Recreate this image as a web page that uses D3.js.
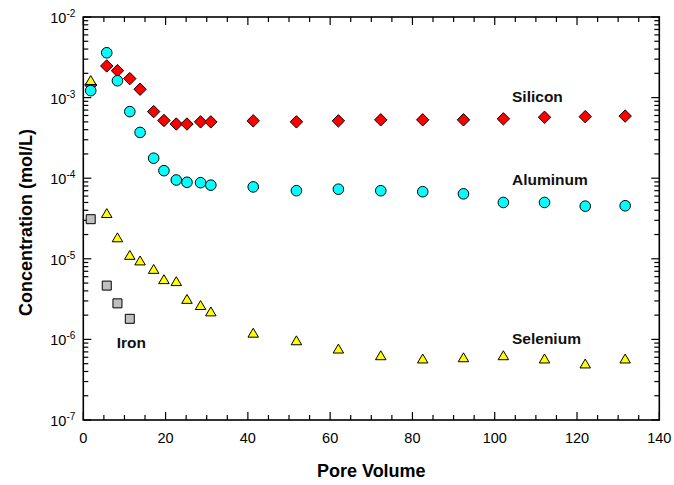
<!DOCTYPE html>
<html>
<head>
<meta charset="utf-8">
<script src="https://cdn.jsdelivr.net/npm/d3@7/dist/d3.min.js"></script>
<style>
  html, body { margin: 0; padding: 0; background: #fff; }
  svg { display: block; font-family: "Liberation Sans", Arial, sans-serif; }
</style>
</head>
<body>
<svg id="chart" width="674" height="485"></svg>
<script>
// Pore volumes at which samples were taken
const poreVolume = [1.8, 5.7, 8.3, 11.3, 13.8, 17.1, 19.6, 22.6, 25.2, 28.5, 31.0,
                    41.3, 51.8, 62.0, 72.3, 82.5, 92.4, 102.1, 112.1, 122.0, 131.7];

// Effluent concentrations (mol/L)
const silicon = [1.43e-3, 2.47e-3, 2.16e-3, 1.72e-3, 1.27e-3, 6.7e-4, 5.2e-4, 4.7e-4, 4.7e-4, 5.0e-4, 5.0e-4,
                 5.15e-4, 5.0e-4, 5.15e-4, 5.3e-4, 5.3e-4, 5.3e-4, 5.45e-4, 5.7e-4, 5.8e-4, 5.9e-4];
const aluminum = [1.22e-3, 3.6e-3, 1.62e-3, 6.7e-4, 3.7e-4, 1.77e-4, 1.24e-4, 9.5e-5, 8.9e-5, 8.8e-5, 8.2e-5,
                  7.8e-5, 7.0e-5, 7.3e-5, 7.0e-5, 6.8e-5, 6.4e-5, 5.0e-5, 5.0e-5, 4.5e-5, 4.55e-5];
const selenium = [1.61e-3, 3.6e-5, 1.8e-5, 1.09e-5, 9.3e-6, 7.3e-6, 5.45e-6, 5.15e-6, 3.1e-6, 2.6e-6, 2.17e-6,
                  1.18e-6, 9.5e-7, 7.5e-7, 6.2e-7, 5.65e-7, 5.85e-7, 6.2e-7, 5.65e-7, 4.9e-7, 5.65e-7];
const iron = [3.1e-5, 4.65e-6, 2.8e-6, 1.8e-6];

const xTicks = [0, 20, 40, 60, 80, 100, 120, 140];
const yExponents = [-7, -6, -5, -4, -3, -2];

// Series name labels, anchored at their text baseline (pore volume, mol/L)
const seriesLabels = [
  { text: "Silicon",  x: 104.2, y: 8.8e-4 },
  { text: "Aluminum", x: 104.2, y: 8.35e-5 },
  { text: "Selenium", x: 104.2, y: 8.75e-7 },
  { text: "Iron",     x: 8.1,   y: 7.8e-7 }
];

const W = 674, H = 485;
const margin = { left: 83.3, right: W - 659.3, top: 17, bottom: H - 420 };

const svg = d3.select("#chart");

const x = d3.scaleLinear().domain([0, 140]).range([margin.left, W - margin.right]);
const y = d3.scaleLog().domain([1e-7, 1e-2]).range([H - margin.bottom, margin.top]);

// ---- axes frame and ticks (inward on all four sides) ----
const g = svg.append("g");
const minorX = d3.range(0, 141, 5);
const majorLen = 8, minorLen = 5;

function drawXTicks(yPos, dir) {
  g.selectAll(null).data(minorX).enter().append("line")
    .attr("x1", d => x(d)).attr("x2", d => x(d))
    .attr("y1", yPos)
    .attr("y2", d => yPos + dir * (d % 20 === 0 ? majorLen : minorLen))
    .attr("stroke", "#000").attr("stroke-width", 1.2);
}
drawXTicks(y(1e-7), -1);
drawXTicks(y(1e-2), 1);

const minorY = [];
for (let e = -7; e < -2; e++) for (let m = 1; m <= 9; m++) minorY.push(m * Math.pow(10, e));
minorY.push(1e-2);

function drawYTicks(xPos, dir) {
  g.selectAll(null).data(minorY).enter().append("line")
    .attr("y1", d => y(d)).attr("y2", d => y(d))
    .attr("x1", xPos)
    .attr("x2", d => {
      const isMajor = Math.abs(Math.log10(d) - Math.round(Math.log10(d))) < 1e-9;
      return xPos + dir * (isMajor ? majorLen : minorLen);
    })
    .attr("stroke", "#000").attr("stroke-width", 1.2);
}
drawYTicks(x(0), 1);
drawYTicks(x(140), -1);

g.append("rect")
  .attr("x", x(0)).attr("y", y(1e-2))
  .attr("width", x(140) - x(0)).attr("height", y(1e-7) - y(1e-2))
  .attr("fill", "none").attr("stroke", "#000").attr("stroke-width", 1.6);

// x tick labels
svg.selectAll(null).data(xTicks).enter().append("text")
  .attr("x", d => x(d)).attr("y", y(1e-7) + 23)
  .attr("text-anchor", "middle")
  .attr("font-size", 14.5)
  .attr("fill", "#000")
  .text(d => d);

// y tick labels as powers of ten
const yl = svg.selectAll(null).data(yExponents).enter().append("text")
  .attr("x", x(0) - 8)
  .attr("y", d => y(Math.pow(10, d)) + 6)
  .attr("text-anchor", "end")
  .attr("font-size", 14.5)
  .attr("fill", "#000");
yl.append("tspan").text("10");
yl.append("tspan").attr("dy", -6).attr("font-size", 10).text(d => String(d));

// axis titles
svg.append("text")
  .attr("x", (x(0) + x(140)) / 2).attr("y", 477)
  .attr("text-anchor", "middle")
  .attr("font-size", 18).attr("font-weight", "bold")
  .text("Pore Volume");

svg.append("text")
  .attr("transform", `translate(31.5,${(y(1e-2) + y(1e-7)) / 2 + 4}) rotate(-90)`)
  .attr("text-anchor", "middle")
  .attr("font-size", 18).attr("font-weight", "bold")
  .text("Concentration (mol/L)");

// ---- markers ----
const diamond = r => `M0,${-r}L${r},0L0,${r}L${-r},0Z`;
const square = s => `M${-s / 2},${-s / 2}h${s}v${s}h${-s}Z`;
const triangle = w => {
  const h = w * 0.85;
  return `M0,${-h * 0.6}L${w / 2},${h * 0.4}L${-w / 2},${h * 0.4}Z`;
};

function zip(vals) { return vals.map((v, i) => ({ px: poreVolume[i], v })); }

const marks = svg.append("g").attr("stroke", "#000").attr("stroke-width", 1);

marks.selectAll(".si").data(zip(silicon)).enter().append("path")
  .attr("class", "si")
  .attr("d", diamond(6.2))
  .attr("transform", d => `translate(${x(d.px)},${y(d.v)})`)
  .attr("fill", "#ff0000");

marks.selectAll(".al").data(zip(aluminum)).enter().append("circle")
  .attr("class", "al")
  .attr("cx", d => x(d.px)).attr("cy", d => y(d.v)).attr("r", 5.3)
  .attr("fill", "#00ffff");

marks.selectAll(".se").data(zip(selenium)).enter().append("path")
  .attr("class", "se")
  .attr("d", triangle(10.5))
  .attr("transform", d => `translate(${x(d.px)},${y(d.v)})`)
  .attr("fill", "#ffff00");

marks.selectAll(".fe").data(zip(iron)).enter().append("path")
  .attr("class", "fe")
  .attr("d", square(9))
  .attr("transform", d => `translate(${x(d.px)},${y(d.v)})`)
  .attr("fill", "#c0c0c0");

// series labels
svg.selectAll(null).data(seriesLabels).enter().append("text")
  .attr("x", d => x(d.x)).attr("y", d => y(d.y))
  .attr("font-size", 15.5).attr("font-weight", "bold")
  .attr("fill", "#111")
  .text(d => d.text);
</script>
</body>
</html>
